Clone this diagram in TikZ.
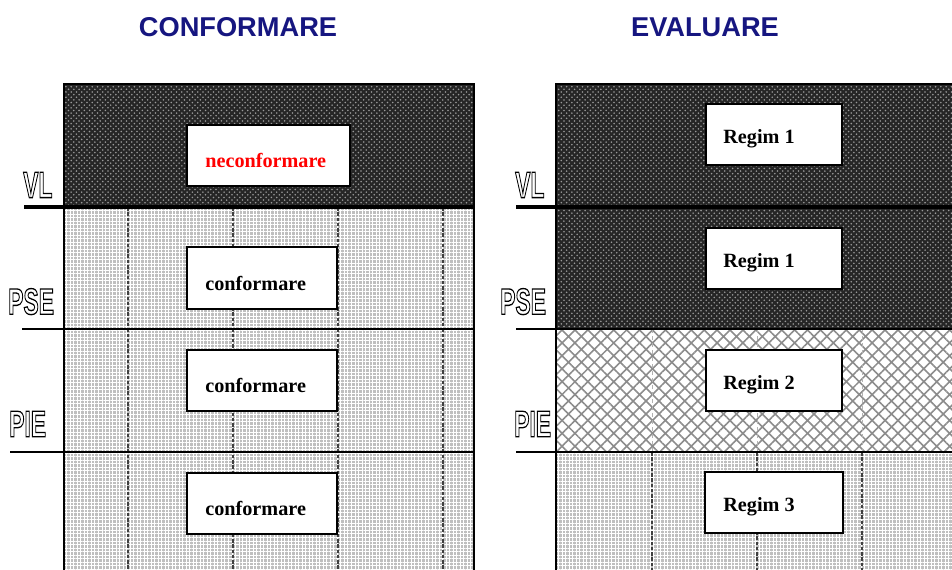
\documentclass[tikz,border=0pt]{standalone}
\usepackage{fontspec}
\setmainfont{Liberation Serif}
\newfontfamily\headfont{Liberation Sans}
\usetikzlibrary{patterns,patterns.meta}

\definecolor{headblue}{RGB}{22,22,128}
% hollow (outlined) letters for the level marks
\newcommand{\hollowtext}[1]{\special{pdf:code 1 Tr 0.75 w}#1\special{pdf:code 0 Tr}}

\tikzset{
  heading/.style={font=\headfont\bfseries\fontsize{15.5}{16}\selectfont, text=headblue},
  levelmark/.style={font=\headfont\bfseries\fontsize{21}{21}\selectfont, xscale=0.62, inner sep=0pt, anchor=south west},
  darkbase/.style={fill=black!85},
  darkdots/.style={pattern=crosshatch dots, pattern color=gray!80},
  lightbase/.style={fill=gray!50},
  lightgrid/.style={pattern={Hatch[angle=0,distance=2pt,line width=0.45pt]}, pattern color=white},
  netzone/.style={pattern={Hatch[angle=45,distance=5.2pt,line width=0.9pt]}, pattern color=gray!90},
  column/.style={black!75, line width=0.6pt, dash pattern=on 2pt off 1pt},
  faintcolumn/.style={gray!60, line width=0.5pt, dash pattern=on 2pt off 2pt},
  regimbox/.style={draw, fill=white, line width=0.6pt},
  boxtext/.style={font=\bfseries\fontsize{11.5}{12}\selectfont, anchor=west, inner sep=0pt},
  levelline/.style={line width=0.6pt},
  vlline/.style={line width=2.4pt}
}

\begin{document}
\begin{tikzpicture}[x=0.02cm, y=-0.02cm]
  \clip (0,0) rectangle (952,569);
  \fill[white] (0,0) rectangle (952,569);

  % titles
  \node[heading] (tconf) at (238,27) {CONFORMARE};
  \node[heading] (teval) at (705,27) {EVALUARE};

  % left panel
  \fill[darkbase] (64,84) rectangle (474,207);
  \fill[darkdots] (64,84) rectangle (474,207);
  \fill[lightbase] (64,207) rectangle (474,575);
  \fill[lightgrid] (64,207) rectangle (474,575);
  \foreach \x in {128,233,338,443}
    \draw[column] (\x,207) -- (\x,575);
  \draw[line width=0.6pt] (64,575) -- (64,84) -- (474,84) -- (474,575);
  \draw[vlline] (24,207) -- (474,207);
  \draw[levelline] (22,329) -- (474,329);
  \draw[levelline] (10,452) -- (474,452);

  \node[levelmark] (vlA) at (23,198) {\hollowtext{VL}};
  \node[levelmark] (pseA) at (8,315) {\hollowtext{PSE}};
  \node[levelmark] (pieA) at (9,437) {\hollowtext{PIE}};

  \draw[regimbox] (187,125) rectangle (350,186);
  \node[boxtext, text=red] (nec) at (205,160) {neconformare};
  \draw[regimbox] (187,247) rectangle (337,309);
  \node[boxtext] (conf1) at (205,283) {conformare};
  \draw[regimbox] (187,350) rectangle (337,411);
  \node[boxtext] (conf2) at (205,385) {conformare};
  \draw[regimbox] (187,473) rectangle (337,534);
  \node[boxtext] (conf3) at (205,508) {conformare};

  % right panel
  \fill[darkbase] (556,84) rectangle (960,329);
  \fill[darkdots] (556,84) rectangle (960,329);
  \fill[white] (556,329) rectangle (960,452);
  \fill[netzone] (556,329) rectangle (960,452);
  \foreach \x in {652,757,862}
    \draw[faintcolumn] (\x,329) -- (\x,452);
  \fill[lightbase] (556,452) rectangle (960,575);
  \fill[lightgrid] (556,452) rectangle (960,575);
  \foreach \x in {652,757,862}
    \draw[column] (\x,452) -- (\x,575);
  \draw[line width=0.6pt] (556,575) -- (556,84) -- (960,84);
  \draw[vlline] (516,207) -- (960,207);
  \draw[levelline] (516,329) -- (960,329);
  \draw[levelline] (516,452) -- (960,452);

  \node[levelmark] (vlB) at (515,198) {\hollowtext{VL}};
  \node[levelmark] (pseB) at (500,315) {\hollowtext{PSE}};
  \node[levelmark] (pieB) at (514,437) {\hollowtext{PIE}};

  \draw[regimbox] (706,104) rectangle (842,165);
  \node[boxtext] (reg1a) at (723,139) {Regim 1};
  \draw[regimbox] (706,228) rectangle (842,289);
  \node[boxtext] (reg1b) at (723,263) {Regim 1};
  \draw[regimbox] (706,350) rectangle (842,411);
  \node[boxtext] (reg2) at (723,385) {Regim 2};
  \draw[regimbox] (705,472) rectangle (843,533);
  \node[boxtext] (reg3) at (723,507) {Regim 3};
\end{tikzpicture}
\end{document}
